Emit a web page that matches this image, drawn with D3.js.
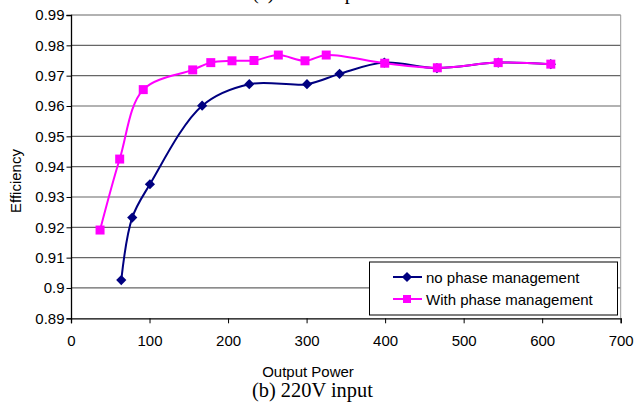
<!DOCTYPE html>
<html>
<head>
<meta charset="utf-8">
<script src="https://cdn.jsdelivr.net/npm/d3@7"></script>
<style>
  body { margin: 0; background: #fff; }
  svg { display: block; }
</style>
</head>
<body>
<script>
// series
const noPhaseX = [64, 78, 100.5, 167, 227, 300.5, 342, 399, 466, 544, 611];
const noPhaseY = [0.9026, 0.9232, 0.9342, 0.9601, 0.9672, 0.9672, 0.9706, 0.9743, 0.9725, 0.9743, 0.9738];
const withPhaseX = [37, 62, 92, 155, 178, 205, 233, 264, 298, 325, 399.5, 466.5, 544, 611];
const withPhaseY = [0.9191, 0.9425, 0.9654, 0.9719, 0.9743, 0.9749, 0.9750, 0.9768, 0.9749, 0.9768, 0.9741, 0.9726, 0.9743, 0.9738];

const xTicks = [0, 100, 200, 300, 400, 500, 600, 700];
const yTicks = [0.89, 0.90, 0.91, 0.92, 0.93, 0.94, 0.95, 0.96, 0.97, 0.98, 0.99];
const seriesNames = ["no phase management", "With phase management"];

const w = 641;
const h = 410;
const plotL = 71, plotR = 620.7, plotT = 15, plotB = 318.3;

const svg = d3.select("body").append("svg").attr("width", w).attr("height", h);

const x = d3.scaleLinear().domain([0, 700]).range([plotL, plotR]);
const y = d3.scaleLinear().domain([0.89, 0.99]).range([plotB, plotT]);

const fontSans = "Liberation Sans, Arial, sans-serif";
const fontSerif = "Liberation Serif, Times New Roman, serif";

// caption of the figure above, cut off by the page edge
svg.append("text")
  .attr("x", 252).attr("y", -1.5)
  .style("font-family", fontSerif)
  .style("font-size", "20.4px")
  .text("(a) 110V input");

// gridlines
svg.append("g")
  .selectAll("line")
  .data(yTicks.slice(1))
  .join("line")
  .attr("x1", plotL).attr("x2", plotR)
  .attr("y1", d => y(d)).attr("y2", d => y(d))
  .attr("stroke", "#666")
  .attr("stroke-width", 1.2);

// right border
svg.append("line")
  .attr("x1", plotR).attr("x2", plotR)
  .attr("y1", plotT).attr("y2", plotB)
  .attr("stroke", "#999")
  .attr("stroke-width", 1);

// axes
const xAxis = svg.append("g")
  .attr("transform", `translate(0,${plotB})`)
  .call(d3.axisBottom(x).tickValues(xTicks).tickSize(5).tickPadding(12).tickFormat(d3.format("d")));
const yAxis = svg.append("g")
  .attr("transform", `translate(${plotL},0)`)
  .call(d3.axisLeft(y).tickValues(yTicks).tickSize(4.5).tickPadding(2).tickFormat(d => d3.format(".2~f")(d)));

[xAxis, yAxis].forEach(g => {
  g.select(".domain").attr("stroke", "#000").attr("stroke-width", 1.3);
  g.selectAll(".tick line").attr("stroke", "#000");
  g.selectAll("text")
    .attr("fill", "#000")
    .style("font-family", fontSans)
    .style("font-size", "15px");
});

// lines
const line = d3.line()
  .x(d => x(d[0]))
  .y(d => y(d[1]))
  .curve(d3.curveCatmullRom.alpha(0.5));

const blueData = noPhaseX.map((v, i) => [v, noPhaseY[i]]);
const pinkData = withPhaseX.map((v, i) => [v, withPhaseY[i]]);

svg.append("path")
  .datum(blueData)
  .attr("d", line)
  .attr("fill", "none")
  .attr("stroke", "#000080")
  .attr("stroke-width", 2);

svg.append("g")
  .selectAll("path")
  .data(blueData)
  .join("path")
  .attr("d", d3.symbol(d3.symbolSquare, 52))
  .attr("transform", d => `translate(${x(d[0])},${y(d[1])}) rotate(45)`)
  .attr("fill", "#000080");

svg.append("path")
  .datum(pinkData)
  .attr("d", line)
  .attr("fill", "none")
  .attr("stroke", "#ff00ff")
  .attr("stroke-width", 2);

svg.append("g")
  .selectAll("path")
  .data(pinkData)
  .join("path")
  .attr("d", d3.symbol(d3.symbolSquare, 81))
  .attr("transform", d => `translate(${x(d[0])},${y(d[1])})`)
  .attr("fill", "#ff00ff");

// legend
const legend = svg.append("g");
legend.append("rect")
  .attr("x", 369.5).attr("y", 262)
  .attr("width", 248).attr("height", 53)
  .attr("fill", "#fff")
  .attr("stroke", "#000")
  .attr("stroke-width", 1);

const legendRows = [
  { name: seriesNames[0], color: "#000080", size: 52, rot: 45, y: 277 },
  { name: seriesNames[1], color: "#ff00ff", size: 64, rot: 0, y: 299 }
];

legendRows.forEach(r => {
  legend.append("line")
    .attr("x1", 393).attr("x2", 422)
    .attr("y1", r.y).attr("y2", r.y)
    .attr("stroke", r.color)
    .attr("stroke-width", 2);
  legend.append("path")
    .attr("d", d3.symbol(d3.symbolSquare, r.size))
    .attr("transform", `translate(407,${r.y}) rotate(${r.rot})`)
    .attr("fill", r.color);
  legend.append("text")
    .attr("x", 426).attr("y", r.y + 5.5)
    .style("font-family", fontSans)
    .style("font-size", "15px")
    .text(r.name);
});

// axis titles
svg.append("text")
  .attr("x", 308).attr("y", 376.5)
  .attr("text-anchor", "middle")
  .style("font-family", fontSans)
  .style("font-size", "15px")
  .text("Output Power");

svg.append("text")
  .attr("transform", "translate(21,181) rotate(-90)")
  .attr("text-anchor", "middle")
  .style("font-family", fontSans)
  .style("font-size", "15px")
  .text("Efficiency");

// caption
svg.append("text")
  .attr("x", 252).attr("y", 397)
  .style("font-family", fontSerif)
  .style("font-size", "20.4px")
  .text("(b) 220V input");
</script>
</body>
</html>
